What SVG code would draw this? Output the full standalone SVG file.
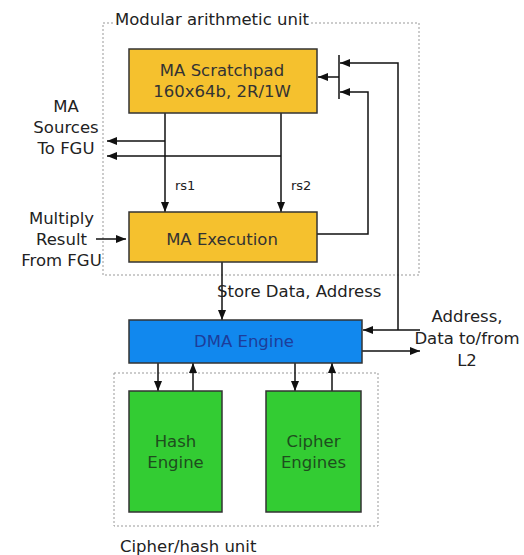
<svg xmlns="http://www.w3.org/2000/svg" width="524" height="555" viewBox="0 0 524 555">
<style>
text{font-family:"DejaVu Sans","Liberation Sans",sans-serif;fill:#222}
.lbl{font-size:16.5px}
.box{stroke:#333;stroke-width:1.5}
.ma{fill:#F5C12E}
.dma{fill:#1188EE}
.eng{fill:#33CC33}
.grp{fill:none;stroke:#999;stroke-width:1;stroke-dasharray:2,2}
.c{fill:none;stroke:#111;stroke-width:1.5}
.mid{text-anchor:middle}
</style>
<defs>
<marker id="ah" markerUnits="userSpaceOnUse" markerWidth="10" markerHeight="8" refX="10" refY="4" orient="auto">
<path d="M0,0 L10,4 L0,8 z" fill="#111"/>
</marker>
</defs>
<rect width="524" height="555" fill="#fff"/>
<g id="ma-unit">
<rect class="grp" x="103" y="23" width="316" height="252"/>
<rect x="113" y="10" width="198" height="18" fill="#fff"/>
<text class="lbl" x="115" y="25">Modular arithmetic unit</text>
</g>
<g id="cipher-unit">
<rect class="grp" x="114" y="373" width="264" height="153"/>
<text class="lbl" x="120" y="552">Cipher/hash unit</text>
</g>
<g id="connectors">
<path class="c" d="M165,113 V212" marker-end="url(#ah)"/>
<path class="c" d="M281,113 V212" marker-end="url(#ah)"/>
<path class="c" d="M165,141 H107" marker-end="url(#ah)"/>
<path class="c" d="M281,156 H107" marker-end="url(#ah)"/>
<path class="c" d="M96,239 H126" marker-end="url(#ah)"/>
<path class="c" d="M317,234 H368 V92 H340" marker-end="url(#ah)"/>
<path class="c" d="M420,330 H363" marker-end="url(#ah)"/>
<path class="c" d="M398,330 V63 H340" marker-end="url(#ah)"/>
<path class="c" d="M339,55 V99"/>
<path class="c" d="M339,77 H318" marker-end="url(#ah)"/>
<path class="c" d="M222,262 V320" marker-end="url(#ah)"/>
<path class="c" d="M362,351 H420" marker-end="url(#ah)"/>
<path class="c" d="M158,363 V391" marker-end="url(#ah)"/>
<path class="c" d="M193,391 V363" marker-end="url(#ah)"/>
<path class="c" d="M295,363 V391" marker-end="url(#ah)"/>
<path class="c" d="M332,391 V363" marker-end="url(#ah)"/>
<text x="175" y="190" style="font-size:13px">rs1</text>
<text x="291" y="190" style="font-size:13px">rs2</text>
<text class="lbl" x="217" y="297">Store Data, Address</text>
<text class="lbl mid" x="66" y="112">MA</text>
<text class="lbl mid" x="66" y="133">Sources</text>
<text class="lbl mid" x="66" y="154">To FGU</text>
<text class="lbl mid" x="61.5" y="224">Multiply</text>
<text class="lbl mid" x="61.5" y="245">Result</text>
<text class="lbl mid" x="61.5" y="266">From FGU</text>
<text class="lbl mid" x="467" y="322">Address,</text>
<text class="lbl mid" x="467" y="344">Data to/from</text>
<text class="lbl mid" x="467" y="366">L2</text>
</g>
<g id="scratchpad">
<rect class="box ma" x="129" y="49" width="188" height="64"/>
<text class="lbl mid" x="222" y="76" style="fill:#333">MA Scratchpad</text>
<text class="lbl mid" x="222" y="97" style="fill:#333">160x64b, 2R/1W</text>
</g>
<g id="execution">
<rect class="box ma" x="129" y="212" width="188" height="50"/>
<text class="lbl mid" x="222" y="245" style="fill:#333">MA Execution</text>
</g>
<g id="dma">
<rect class="box dma" x="129" y="320" width="233" height="43"/>
<text class="lbl mid" x="244" y="347" style="fill:#1d3d9a">DMA Engine</text>
</g>
<g id="hash">
<rect class="box eng" x="129" y="391" width="93" height="121"/>
<text class="lbl mid" x="175.5" y="447" style="fill:#1e4d1e">Hash</text>
<text class="lbl mid" x="175.5" y="468" style="fill:#1e4d1e">Engine</text>
</g>
<g id="cipher">
<rect class="box eng" x="266" y="391" width="95" height="121"/>
<text class="lbl mid" x="313.5" y="447" style="fill:#1e4d1e">Cipher</text>
<text class="lbl mid" x="313.5" y="468" style="fill:#1e4d1e">Engines</text>
</g>
</svg>
